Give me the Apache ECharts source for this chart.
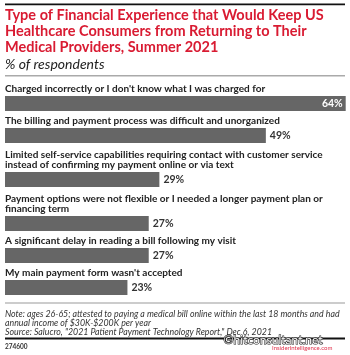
<!DOCTYPE html>
<html><head><meta charset="utf-8">
<script src="https://cdn.jsdelivr.net/npm/echarts@6/dist/echarts.min.js"></script>
<style>html,body{margin:0;padding:0;background:#fff}#c{width:350px;height:355px}</style>
</head><body><div id="c"></div>
<script>
const categories = [
  "Charged incorrectly or I don't know what I was charged for",
  "The billing and payment process was difficult and unorganized",
  "Limited self-service capabilities requiring contact with customer service\ninstead of confirming my payment online or via text",
  "Payment options were not flexible or I needed a longer payment plan or\nfinancing term",
  "A significant delay in reading a bill following my visit",
  "My main payment form wasn't accepted"
];
const values = [64, 49, 29, 27, 27, 23];
const xMax = 64;

// layout
const barTops = [96, 128, 172, 216, 248, 280];
const barH = 15;
const FONT = 'Lato';

const chart = echarts.init(document.getElementById('c'), null, {renderer: 'canvas'});
const grids = [], xAxes = [], yAxes = [], series = [], graphics = [];
categories.forEach((cat, i) => {
  grids.push({left: 5, right: 4.3, top: barTops[i], height: barH, containLabel: false});
  xAxes.push({type: 'value', gridIndex: i, min: 0, max: xMax, show: false});
  yAxes.push({type: 'category', gridIndex: i, data: [cat], show: false});
  const inside = i === 0;
  series.push({
    type: 'bar', xAxisIndex: i, yAxisIndex: i, barWidth: '100%', barCategoryGap: 0,
    itemStyle: {color: '#666666'},
    silent: true, animation: false,
    label: {
      show: true, position: inside ? 'insideRight' : 'right', distance: inside ? 3 : 4,
      formatter: '{c}%', fontFamily: FONT, fontWeight: 'bold', fontSize: 10.5,
      color: inside ? '#ffffff' : '#333333'
    },
    data: [values[i]]
  });
  graphics.push({type: 'text', left: 5, top: barTops[i] - 2.5 - 10 * cat.split('\n').length,
    style: {text: cat, fontFamily: FONT, fontWeight: 'bold', fontSize: 10, lineHeight: 10, fill: '#222'}});
});

graphics.push(
  {type: 'rect', shape: {x: 5, y: 3.5, width: 340, height: 1.8}, style: {fill: '#111'}},
  {type: 'text', left: 5, top: 7, style: {
    text: 'Type of Financial Experience that Would Keep US\nHealthcare Consumers from Returning to Their\nMedical Providers, Summer 2021',
    fontFamily: FONT, fontWeight: 'bold', fontSize: 14.5, lineHeight: 16, fill: '#d91b32'}},
  {type: 'text', left: 5, top: 56, style: {text: '% of respondents', fontFamily: FONT, fontStyle: 'italic', fontSize: 14, lineHeight: 16, fill: '#222'}},
  {type: 'rect', shape: {x: 5, y: 75, width: 340, height: 1.6}, style: {fill: '#aaa'}},
  {type: 'rect', shape: {x: 5, y: 302.5, width: 340, height: 1}, style: {fill: '#999'}},
  {type: 'text', left: 5, top: 309, style: {
    text: 'Note: ages 26-65; attested to paying a medical bill online within the last 18 months and had\nannual income of $30K-$200K per year\nSource: Salucro, "2021 Patient Payment Technology Report," Dec 6, 2021',
    fontFamily: FONT, fontStyle: 'italic', fontSize: 8.8, lineHeight: 9.4, fill: '#333'}},
  {type: 'rect', shape: {x: 5, y: 337.5, width: 340, height: 2}, style: {fill: '#111'}},
  {type: 'text', left: 5, top: 343, style: {text: '274600', fontFamily: FONT, fontWeight: 'bold', fontSize: 6.5, fill: '#333'}},
  {type: 'text', left: 223, top: 334, style: {text: '\u00a9hitconsultant.net', fontFamily: FONT, fontSize: 12, fill: '#fff', stroke: '#222', lineWidth: 1.2}},
  {type: 'text', left: 272, top: 345, style: {text: 'InsiderIntelligence.com', fontFamily: FONT, fontSize: 6, fill: '#e0304a'}}
);

chart.setOption({
  animation: false,
  grid: grids, xAxis: xAxes, yAxis: yAxes, series: series, graphic: graphics
});
</script></body></html>
